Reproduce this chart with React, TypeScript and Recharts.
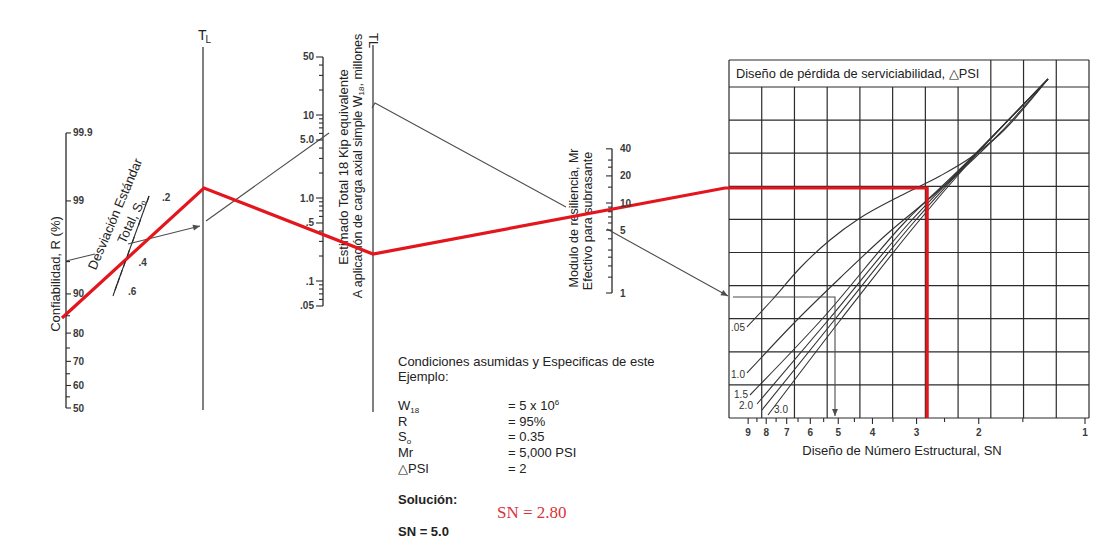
import { ComposedChart, Line, Scatter, XAxis, YAxis } from "recharts"

const WIDTH = 1106
const HEIGHT = 541

const INK = "#2b2b2b"
const GRAY = "#4d4d4d"
const RED = "#e3151d"
const FONT = "'Liberation Sans', Arial, sans-serif"

// columnas del nomograma (unidades del grafico)
const R_AXIS_X = 66
const TL1_X = 203
const W18_AXIS_X = 323
const TL2_X = 373
const MR_AXIS_X = 612

// Confiabilidad R (%)
const rMajor = [50, 60, 70, 80, 90, 99, 99.9]
const rLabels = ["50", "60", "70", "80", "90", "99", "99.9"]
const rMinor = [55, 65, 75, 85, 95]

// Desviacion estandar total S0
const s0Ticks = [0.2, 0.25, 0.3, 0.35, 0.4, 0.45, 0.5, 0.55, 0.6]
const s0Labels = [0.2, 0.4, 0.6]

// W18 (millones)
const w18Major = [0.05, 0.1, 0.5, 1, 5, 10, 50]
const w18Labels = [".05", ".1", ".5", "1.0", "5.0", "10", "50"]
const w18Minor = [0.06, 0.07, 0.08, 0.09, 0.2, 0.3, 0.4, 0.6, 0.7, 0.8, 0.9, 2, 3, 4, 6, 7, 8, 9, 20, 30, 40]

// Mr (ksi)
const mrMajor = [1, 5, 10, 20, 40]
const mrMinor = [1.5, 2, 2.5, 3, 4, 6, 7, 8, 9, 15, 25, 30]

// SN
const snMajor = [9, 8, 7, 6, 5, 4, 3, 2, 1]
const snMinor = [8.5, 7.5, 6.5, 5.5, 4.5, 3.5, 2.5, 1.5]

// curvas de perdida de serviciabilidad
const psiNames = [".05", "1.0", "1.5", "2.0", "", "3.0"]
const psi05X = [747, 772, 800, 830, 860, 900, 940, 970, 1000, 1048]
const psi05Y = [327, 300, 268, 240, 218, 196, 176, 158, 134, 79]
const psi10X = [747, 797, 840, 887, 930, 965, 1000, 1048]
const psi10Y = [373, 320, 278, 234, 198, 167, 133, 79]
const psi15X = [750, 823, 905, 960, 1048]
const psi15Y = [395, 318, 222, 169, 79]
const psi20X = [757, 830, 910, 962, 1048]
const psi20Y = [404, 318, 222, 168, 79]
const psi25X = [762, 836, 914, 964, 1048]
const psi25Y = [410, 318, 222, 167, 79]
const psi30X = [768, 842, 918, 966, 1048]
const psi30Y = [415, 318, 222, 166, 79]

// linea del ejemplo (gris)
const exRX = [66, 95]
const exRY = [261, 254]
const exSX = [128, 200]
const exSY = [244, 226]
const exTX = [206, 329]
const exTY = [221, 133]
const exUX = [372, 375, 566]
const exUY = [108, 103, 207]
const exMX = [607, 728]
const exMY = [229, 296]
const exNX = [733, 835, 835]
const exNY = [297, 297, 416]

// solucion (rojo)
const solSN = 2.8
const solX = [62, 204, 373, 725]
const solY = [318, 188, 254, 188]

// --- escalas del nomograma ---
function probit(p: number) {
  const q = p < 0.5 ? p : 1 - p
  const t = Math.sqrt(-2 * Math.log(q))
  const z = t - (2.515517 + 0.802853 * t + 0.010328 * t * t) / (1 + 1.432788 * t + 0.189269 * t * t + 0.001308 * t * t * t)
  return p < 0.5 ? -z : z
}
const rY = (r: number) => 408 - 89 * probit(r / 100)
const w18Y = (w: number) => 198 - 83 * Math.log10(w)
const mrY = (m: number) => 293 - 90 * Math.log10(m)
const snX = (sn: number) => 1085 - 353 * Math.log10(sn)
const S0_TOP = { x: 149, y: 196 }
const S0_BOT = { x: 115, y: 290 }
const s0Pos = (s: number) => {
  const t = (Math.pow(s, -0.5) - Math.pow(0.2, -0.5)) / (Math.pow(0.6, -0.5) - Math.pow(0.2, -0.5))
  return { x: S0_TOP.x + t * (S0_BOT.x - S0_TOP.x), y: S0_TOP.y + t * (S0_BOT.y - S0_TOP.y) }
}

const pts = (xs: number[], ys: number[]) => xs.map((x, i) => ({ x, y: ys[i] }))

// cuadricula del panel derecho
const GRID_L = 729
const GRID_R = 1089
const GRID_TOP = 60
const GRID_TITLE = 87
const GRID_BOT = 418
const GRID_COLS = 11
const GRID_ROWS = 10

type Seg = { key: string; data: { x: number; y: number }[]; stroke: string; w: number; curve?: boolean }

const segs: Seg[] = []
for (let k = 0; k <= GRID_COLS; k++) {
  const x = GRID_L + (k * (GRID_R - GRID_L)) / GRID_COLS
  const top = k === 0 || k >= 8 ? GRID_TOP : GRID_TITLE
  segs.push({ key: `gv${k}`, data: [{ x, y: top }, { x, y: GRID_BOT }], stroke: INK, w: 1.2 })
}
segs.push({ key: "gtop", data: [{ x: GRID_L, y: GRID_TOP }, { x: GRID_R, y: GRID_TOP }], stroke: INK, w: 1.2 })
for (let j = 0; j <= GRID_ROWS; j++) {
  const y = GRID_TITLE + (j * (GRID_BOT - GRID_TITLE)) / GRID_ROWS
  segs.push({ key: `gh${j}`, data: [{ x: GRID_L, y }, { x: GRID_R, y }], stroke: INK, w: 1.2 })
}

// ejes
segs.push({ key: "rAxis", data: [{ x: R_AXIS_X, y: rY(50) }, { x: R_AXIS_X, y: rY(99.9) }], stroke: INK, w: 1.3 })
segs.push({ key: "s0Axis", data: [S0_TOP, S0_BOT], stroke: INK, w: 1.1 })
segs.push({ key: "tl1", data: [{ x: TL1_X, y: 47 }, { x: TL1_X, y: 410 }], stroke: INK, w: 1.2 })
segs.push({ key: "w18Axis", data: [{ x: W18_AXIS_X, y: w18Y(0.05) }, { x: W18_AXIS_X, y: w18Y(50) }], stroke: INK, w: 1.3 })
segs.push({ key: "tl2", data: [{ x: TL2_X, y: 45 }, { x: TL2_X, y: 412 }], stroke: INK, w: 1.2 })
segs.push({ key: "mrAxis", data: [{ x: MR_AXIS_X, y: mrY(1) }, { x: MR_AXIS_X, y: mrY(40) }], stroke: INK, w: 1.3 })

// curvas
const psiX = [psi05X, psi10X, psi15X, psi20X, psi25X, psi30X]
const psiY = [psi05Y, psi10Y, psi15Y, psi20Y, psi25Y, psi30Y]
psiX.forEach((xs, i) => segs.push({ key: `psi${i}`, data: pts(xs, psiY[i]), stroke: "#333", w: 1.1, curve: true }))

// ejemplo
const exLines = [
  pts(exRX, exRY),
  pts(exSX, exSY),
  pts(exTX, exTY),
  pts(exUX, exUY),
  pts(exMX, exMY),
  pts(exNX, exNY),
]
exLines.forEach((d, i) => segs.push({ key: `ex${i}`, data: d, stroke: GRAY, w: 1.1 }))

// solucion
const solData = [
  ...pts(solX, solY),
  { x: snX(solSN), y: solY[solY.length - 1] },
  { x: snX(solSN), y: GRID_BOT },
]

// marcas de escala
type Tick = { x: number; y: number; dx: number; dy: number; label?: string; lx?: number; ly?: number; anchor?: string }
const ticks: Tick[] = []
rMajor.forEach((v, i) => ticks.push({ x: R_AXIS_X, y: rY(v), dx: 5, dy: 0, label: rLabels[i], lx: 7, ly: 3.5, anchor: "start" }))
rMinor.forEach((v) => ticks.push({ x: R_AXIS_X, y: rY(v), dx: 4, dy: 0 }))
s0Ticks.forEach((v) => {
  const p = s0Pos(v)
  const lab = s0Labels.includes(v) ? String(v).replace("0.", ".") : undefined
  ticks.push({ x: p.x, y: p.y, dx: -2, dy: 6, label: lab, lx: 13, ly: 5, anchor: "start" })
})
w18Major.forEach((v, i) => ticks.push({ x: W18_AXIS_X, y: w18Y(v), dx: -7, dy: 0, label: w18Labels[i], lx: -9, ly: 3.5, anchor: "end" }))
w18Minor.forEach((v) => ticks.push({ x: W18_AXIS_X, y: w18Y(v), dx: -4, dy: 0 }))
mrMajor.forEach((v) => ticks.push({ x: MR_AXIS_X, y: mrY(v), dx: -6, dy: 0, label: String(v), lx: 8, ly: 3.5, anchor: "start" }))
mrMinor.forEach((v) => ticks.push({ x: MR_AXIS_X, y: mrY(v), dx: -4, dy: 0 }))
snMajor.forEach((v) => ticks.push({ x: snX(v), y: GRID_BOT, dx: 0, dy: 6, label: String(v), lx: 0, ly: 18, anchor: "middle" }))
snMinor.forEach((v) => ticks.push({ x: snX(v), y: GRID_BOT, dx: 0, dy: 4 }))

// desplazamiento de cada rotulo de curva respecto a su inicio
const PSI_LABEL_OFFSET = [
  { dx: -9, dy: 4 },
  { dx: -9, dy: 5 },
  { dx: -9, dy: 3 },
  { dx: -11, dy: 5 },
  { dx: 0, dy: 0 },
  { dx: 13, dy: -2 },
]
const curveLabels = psiNames
  .map((name, i) => ({ x: psiX[i][0], y: psiY[i][0], name, ...PSI_LABEL_OFFSET[i] }))
  .filter((d) => d.name !== "")

// flechas en los extremos de la linea del ejemplo
const arrowFrom = [exLines[1], exLines[4], exLines[5]]
const arrows = arrowFrom.map((d) => {
  const a = d[d.length - 2]
  const b = d[d.length - 1]
  return { x: b.x, y: b.y, ang: (Math.atan2(b.y - a.y, b.x - a.x) * 180) / Math.PI }
})

function TickShape(props: any) {
  const { cx, cy, payload } = props
  return (
    <g>
      <line x1={cx} y1={cy} x2={cx + payload.dx} y2={cy + payload.dy} stroke={INK} strokeWidth={1.1} />
      {payload.label ? (
        <text x={cx + payload.lx} y={cy + payload.ly} textAnchor={payload.anchor} fontFamily={FONT} fontSize={10} fontWeight={700} fill="#3a3a3a">
          {payload.label}
        </text>
      ) : null}
    </g>
  )
}

function CurveLabel(props: any) {
  const { cx, cy, payload } = props
  return (
    <text x={cx + payload.dx} y={cy + payload.dy} textAnchor="middle" fontFamily={FONT} fontSize={10} fill="#333">
      {payload.name}
    </text>
  )
}

function ArrowHead(props: any) {
  const { cx, cy, payload } = props
  return <polygon points="0,0 -7,-3 -7,3" fill={GRAY} transform={`translate(${cx},${cy}) rotate(${payload.ang})`} />
}

const txt = { fontFamily: FONT, fill: "#222" }

function Texts() {
  return (
    <g>
      <text x={198} y={40} fontFamily={FONT} fontSize={14} fill="#222">
        T<tspan fontSize={10} dx={-1} dy={3}>L</tspan>
      </text>
      <text transform="translate(369,33) rotate(90)" fontFamily={FONT} fontSize={13} fill="#222">TL</text>

      <text transform="translate(55,274) rotate(-90)" textAnchor="middle" dominantBaseline="central" fontSize={13} {...txt}>
        Confiabilidad, R (%)
      </text>
      <text transform="translate(115,214) rotate(-67)" textAnchor="middle" dominantBaseline="central" fontSize={13} {...txt}>
        Desviación Estándar
      </text>
      <text transform="translate(131,221) rotate(-65)" textAnchor="middle" dominantBaseline="central" fontSize={13} {...txt}>
        Total, S<tspan fontSize={8} dy={3}>o</tspan>
      </text>
      <text transform="translate(343,167) rotate(-90)" textAnchor="middle" dominantBaseline="central" fontSize={13} {...txt}>
        Estimado Total 18 Kip equivalente
      </text>
      <text transform="translate(358,166) rotate(-90)" textAnchor="middle" dominantBaseline="central" fontSize={12.5} {...txt}>
        A aplicación de carga axial simple W<tspan fontSize={8} dy={3}>18</tspan>
        <tspan dy={-3}>, millones</tspan>
      </text>
      <text transform="translate(574,218) rotate(-90)" textAnchor="middle" dominantBaseline="central" fontSize={12.5} {...txt}>
        Modulo de resiliencia, Mr
      </text>
      <text transform="translate(588,221) rotate(-90)" textAnchor="middle" dominantBaseline="central" fontSize={12.5} {...txt}>
        Efectivo para subrasante
      </text>

      <text x={736} y={78} fontSize={12.8} {...txt}>Diseño de pérdida de serviciabilidad, △PSI</text>
      <text x={902} y={455} textAnchor="middle" fontSize={13} {...txt}>Diseño de Número Estructural, SN</text>

      <text x={398} y={366} fontSize={13} {...txt}>Condiciones asumidas y Especificas de este</text>
      <text x={398} y={381} fontSize={13} {...txt}>Ejemplo:</text>
      <text x={398} y={410} fontSize={13} {...txt}>W<tspan fontSize={8} dy={3}>18</tspan></text>
      <text x={398} y={426} fontSize={13} {...txt}>R</text>
      <text x={398} y={441} fontSize={13} {...txt}>S<tspan fontSize={8} dy={3}>o</tspan></text>
      <text x={398} y={457} fontSize={13} {...txt}>Mr</text>
      <text x={398} y={473} fontSize={13} {...txt}>△PSI</text>
      <text x={508} y={410} fontSize={13} {...txt}>= 5 x 10<tspan fontSize={8} dy={-5}>6</tspan></text>
      <text x={508} y={426} fontSize={13} {...txt}>= 95%</text>
      <text x={508} y={441} fontSize={13} {...txt}>= 0.35</text>
      <text x={508} y={457} fontSize={13} {...txt}>= 5,000 PSI</text>
      <text x={508} y={473} fontSize={13} {...txt}>= 2</text>
      <text x={398} y={504} fontSize={13} fontWeight={700} {...txt}>Solución:</text>
      <text x={398} y={536} fontSize={13} fontWeight={700} {...txt}>SN = 5.0</text>
      <text x={497} y={518} fontSize={17} fontFamily="'Liberation Serif', serif" fill="#d8333b">SN = 2.80</text>
    </g>
  )
}

export default function App() {
  return (
    <div style={{ position: "absolute", left: 0, top: 0, width: WIDTH, height: HEIGHT, background: "#fff" }}>
      <ComposedChart width={WIDTH} height={HEIGHT} margin={{ top: 0, right: 0, bottom: 0, left: 0 }}>
        <XAxis type="number" dataKey="x" domain={[0, WIDTH]} allowDataOverflow hide />
        <YAxis type="number" dataKey="y" domain={[0, HEIGHT]} reversed allowDataOverflow hide />
        <Texts />
        {segs.map((s) => (
          <Line
            key={s.key}
            data={s.data}
            dataKey="y"
            type={s.curve ? "monotone" : "linear"}
            stroke={s.stroke}
            strokeWidth={s.w}
            dot={false}
            activeDot={false}
            isAnimationActive={false}
          />
        ))}
        <Scatter data={ticks} shape={<TickShape />} isAnimationActive={false} />
        <Scatter data={curveLabels} shape={<CurveLabel />} isAnimationActive={false} />
        <Scatter data={arrows} shape={<ArrowHead />} isAnimationActive={false} />
        <Line data={solData} dataKey="y" type="linear" stroke={RED} strokeWidth={3.2} dot={false} activeDot={false} isAnimationActive={false} />
      </ComposedChart>
    </div>
  )
}
